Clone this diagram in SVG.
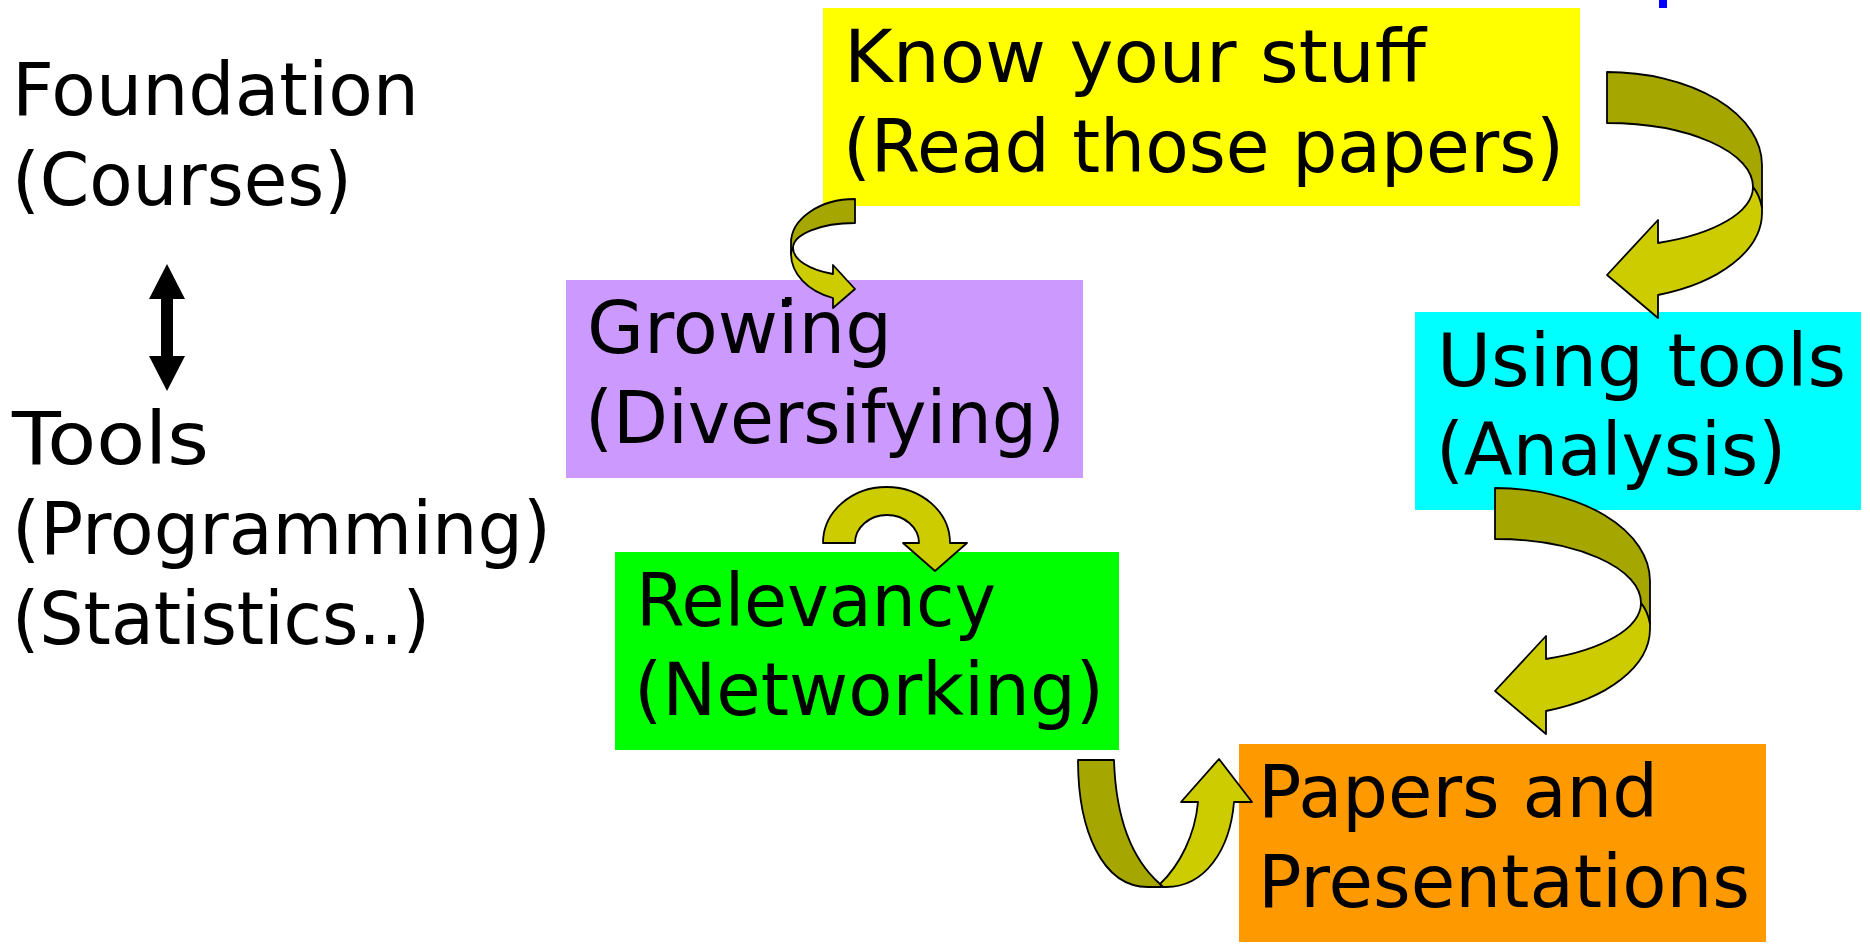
<svg xmlns="http://www.w3.org/2000/svg" width="1870" height="947" viewBox="0 0 1870 947">
<style>
text{font-family:"DejaVu Sans","Liberation Sans",sans-serif;font-size:73px;fill:#000}
.dk{fill:#A6A600;stroke:#000;stroke-width:1.8;stroke-linejoin:round}
.lt{fill:#CCCC00;stroke:#000;stroke-width:1.8;stroke-linejoin:round}
</style>
<rect width="1870" height="947" fill="#fff"/>
<rect x="1659" y="0" width="8" height="8" fill="#0000FF"/>
<g id="left-labels">
<text x="12" y="115" textLength="407" lengthAdjust="spacingAndGlyphs">Foundation</text>
<text x="12" y="205" textLength="340" lengthAdjust="spacingAndGlyphs">(Courses)</text>
<text x="12" y="464" textLength="197" lengthAdjust="spacingAndGlyphs">Tools</text>
<text x="12" y="554" textLength="539" lengthAdjust="spacingAndGlyphs">(Programming)</text>
<text x="12" y="644" textLength="418" lengthAdjust="spacingAndGlyphs">(Statistics..)</text>
<path d="M167,264 L185,299 L173,299 L173,356 L185,356 L167,391 L149,356 L161,356 L161,299 L149,299 Z" fill="#000"/>
</g>
<g id="know">
<rect x="823" y="8" width="757" height="198" fill="#FFFF00"/>
<text x="844" y="82" textLength="582" lengthAdjust="spacingAndGlyphs">Know your stuff</text>
<text x="843" y="172" textLength="721" lengthAdjust="spacingAndGlyphs">(Read those papers)</text>
</g>
<g id="growing">
<rect x="566" y="280" width="517" height="198" fill="#CC99FF"/>
<text x="587" y="353" textLength="305" lengthAdjust="spacingAndGlyphs">Growing</text>
<text x="585" y="443" textLength="480" lengthAdjust="spacingAndGlyphs">(Diversifying)</text>
<rect x="782" y="299" width="7" height="8" fill="#000"/>
</g>
<g id="relevancy">
<rect x="615" y="552" width="504" height="198" fill="#00FF00"/>
<text x="636" y="626" textLength="360" lengthAdjust="spacingAndGlyphs">Relevancy</text>
<text x="634" y="715" textLength="470" lengthAdjust="spacingAndGlyphs">(Networking)</text>
</g>
<g id="tools">
<rect x="1415" y="312" width="446" height="198" fill="#00FFFF"/>
<text x="1437" y="386" textLength="409" lengthAdjust="spacingAndGlyphs">Using tools</text>
<text x="1436" y="475" textLength="350" lengthAdjust="spacingAndGlyphs">(Analysis)</text>
</g>
<g id="papers">
<rect x="1239" y="744" width="527" height="198" fill="#FF9900"/>
<text x="1258" y="817" textLength="400" lengthAdjust="spacingAndGlyphs">Papers and</text>
<text x="1258" y="907" textLength="492" lengthAdjust="spacingAndGlyphs">Presentations</text>
</g>
<g id="connectors">
<g id="c1">
<path class="dk" d="M1607,72 A155,93 0 0 1 1762,165 L1762,208 Q1759,194 1753,187 A146,64 0 0 0 1607,123 Z"/>
<path class="lt" d="M1753,187 Q1760,196 1762,208 L1762,213 A155,87 0 0 1 1658,295 L1658,318 L1607,275 L1658,220 L1658,243 A146,60 0 0 0 1753,187 Z"/>
</g>
<g id="c2" transform="translate(-112,416)">
<path class="dk" d="M1607,72 A155,93 0 0 1 1762,165 L1762,208 Q1759,194 1753,187 A146,64 0 0 0 1607,123 Z"/>
<path class="lt" d="M1753,187 Q1760,196 1762,208 L1762,213 A155,87 0 0 1 1658,295 L1658,318 L1607,275 L1658,220 L1658,243 A146,60 0 0 0 1753,187 Z"/>
</g>
<g id="c3">
<path class="dk" d="M855,199 A64,44 0 0 0 791,243 L791,254 Q791,250 793,248 A62,25 0 0 1 855,223 Z"/>
<path class="lt" d="M793,248 Q791,250 791,254 A64,47 0 0 0 833,298 L833,308 L855,289 L833,265 L833,274 A62,28 0 0 1 793,248 Z"/>
</g>
<path id="c4" class="lt" d="M823,543 A63.5,56 0 0 1 950,543 L967,543 L935,571 L903,543 L919,543 A32,28 0 0 0 855,543 Z"/>
<g id="c5">
<path class="dk" d="M1078,760 L1114,760 C1116,825 1135,862 1160,884 L1163,887 L1148,887 C1102,887 1078,830 1078,760 Z"/>
<path class="lt" d="M1160,884 C1180,865 1195,835 1198,802 L1181,802 L1219,759 L1252,802 L1234,802 C1230,850 1205,887 1166,887 L1163,887 Z"/>
</g>
</g>
</svg>
